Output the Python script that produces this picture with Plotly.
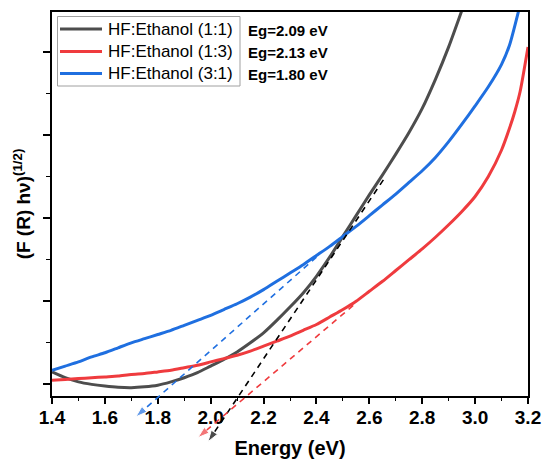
import plotly.graph_objects as go

# ---------------- data ----------------
series_names = ["HF:Ethanol (1:1)", "HF:Ethanol (1:3)", "HF:Ethanol (3:1)"]
series_colors = ["#4d4d4d", "#ef3b3e", "#1f6fe0"]

energy_11 = [1.40, 1.45, 1.50, 1.55, 1.60, 1.65, 1.70, 1.75, 1.80, 1.85, 1.90, 1.95, 2.00,
             2.05, 2.10, 2.15, 2.20, 2.25, 2.30, 2.35, 2.40, 2.45, 2.50, 2.55, 2.60, 2.65,
             2.70, 2.75, 2.80, 2.85, 2.90, 2.95]
value_11 = [0.15, 0.08, 0.03, 0.00, -0.02, -0.035, -0.04, -0.03, -0.01, 0.03, 0.08, 0.14, 0.22,
            0.30, 0.39, 0.50, 0.62, 0.77, 0.93, 1.10, 1.30, 1.53, 1.78, 2.03, 2.28, 2.52,
            2.77, 3.03, 3.32, 3.67, 4.06, 4.50]

energy_13 = [1.40, 1.45, 1.50, 1.55, 1.60, 1.65, 1.70, 1.75, 1.80, 1.85, 1.90, 1.95, 2.00,
             2.05, 2.10, 2.15, 2.20, 2.25, 2.30, 2.35, 2.40, 2.45, 2.50, 2.55, 2.60, 2.65,
             2.70, 2.75, 2.80, 2.85, 2.90, 2.95, 3.00, 3.05, 3.10, 3.13, 3.15, 3.17, 3.20]
value_13 = [0.05, 0.06, 0.07, 0.08, 0.09, 0.10, 0.12, 0.13, 0.15, 0.17, 0.20, 0.23, 0.27,
            0.31, 0.35, 0.40, 0.46, 0.52, 0.58, 0.65, 0.72, 0.81, 0.90, 1.00, 1.12, 1.24,
            1.37, 1.50, 1.63, 1.77, 1.92, 2.08, 2.26, 2.50, 2.82, 3.08, 3.28, 3.52, 4.06]

energy_31 = [1.40, 1.45, 1.50, 1.55, 1.60, 1.65, 1.70, 1.75, 1.80, 1.85, 1.90, 1.95, 2.00,
             2.05, 2.10, 2.15, 2.20, 2.25, 2.30, 2.35, 2.40, 2.45, 2.50, 2.55, 2.60, 2.65,
             2.70, 2.75, 2.80, 2.85, 2.90, 2.95, 3.00, 3.05, 3.10, 3.13, 3.165]
value_31 = [0.17, 0.22, 0.27, 0.33, 0.38, 0.44, 0.50, 0.55, 0.60, 0.65, 0.71, 0.77, 0.83,
            0.90, 0.97, 1.05, 1.14, 1.24, 1.34, 1.44, 1.55, 1.66, 1.78, 1.90, 2.03, 2.16,
            2.29, 2.43, 2.57, 2.73, 2.92, 3.13, 3.35, 3.58, 3.85, 4.08, 4.50]

eg_values = [2.09, 2.13, 1.80]

# tangent (extrapolation) lines: tail point and arrow-tip point, data units
tangent_x_start = [2.653, 2.539, 2.40]
tangent_y_start = [2.46, 0.95, 1.53]
tangent_x_end = [1.99, 1.952, 1.717]
tangent_y_end = [-0.69, -0.64, -0.39]
tangent_colors = ["#000000", "#ef3b3e", "#1f6fe0"]

x_range = [1.4, 3.2]
y_range = [-0.14, 4.48]

# ---------------- layout geometry ----------------
W, H = 542, 459
M_L, M_R, M_T, M_B = 52, 14, 12, 12
plot_w = W - M_L - M_R
plot_h = H - M_T - M_B
main_bottom_px = 63 - M_B          # main axes bottom sits 51 px above overlay bottom
y_dom0 = main_bottom_px / plot_h
# overlay y-range extended downward with the same scale so arrows can leave the box
y2_lo = y_range[0] - y_dom0 / (1 - y_dom0) * (y_range[1] - y_range[0])
y2_range = [y2_lo, y_range[1]]


def px_x(px):
    return (px - M_L) / plot_w


def px_y(py):
    return (H - M_B - py) / plot_h


FONT = "Arial, Liberation Sans, sans-serif"

fig = go.Figure()

xs = [energy_11, energy_13, energy_31]
ys = [value_11, value_13, value_31]
for name, c, x, y in zip(series_names, series_colors, xs, ys):
    fig.add_trace(go.Scatter(x=x, y=y, mode="lines", name=name, showlegend=False,
                             line=dict(color=c, width=3, shape="spline", smoothing=0.6),
                             xaxis="x", yaxis="y"))

for xs0, ys0, xe, ye, c in zip(tangent_x_start, tangent_y_start, tangent_x_end,
                              tangent_y_end, tangent_colors):
    fig.add_trace(go.Scatter(x=[xs0, xe], y=[ys0, ye], mode="lines+markers",
                             showlegend=False, hoverinfo="skip",
                             line=dict(color=c, width=1.6, dash="6px,5px"),
                             marker=dict(symbol="arrow", angleref="previous",
                                         size=[0, 12], color=c),
                             xaxis="x2", yaxis="y2", cliponaxis=False))

fig.update_layout(
    width=W, height=H,
    margin=dict(l=M_L, r=M_R, t=M_T, b=M_B, autoexpand=False),
    paper_bgcolor="white", plot_bgcolor="rgba(0,0,0,0)",
    font=dict(family=FONT, color="black"),
    showlegend=False,
    xaxis=dict(domain=[0, 1], anchor="y", range=x_range,
               showline=True, linecolor="black", linewidth=1.5, mirror=True,
               ticks="outside", ticklen=6, tickwidth=1.5, tickcolor="black",
               dtick=0.2, tick0=1.4, tickformat=".1f", ticklabelstandoff=-3,
               tickfont=dict(family=FONT, size=19, weight="bold"),
               minor=dict(dtick=0.1, ticks="outside", ticklen=3.5, tickwidth=1.2,
                          tickcolor="black"),
               showgrid=False, zeroline=False,
               title=dict(text="<b>Energy (eV)</b>", font=dict(family=FONT, size=20),
                          standoff=15)),
    yaxis=dict(domain=[y_dom0, 1], anchor="x", range=y_range,
               showline=True, linecolor="black", linewidth=1.5, mirror=True,
               ticks="outside", ticklen=7, tickwidth=1.5, tickcolor="black",
               dtick=1, tick0=0, showticklabels=False,
               minor=dict(dtick=0.5, ticks="outside", ticklen=4, tickwidth=1.2,
                          tickcolor="black"),
               showgrid=False, zeroline=False,
               title=dict(text="<b>(F (R) hν)<sup>(1/2)</sup></b>",
                          font=dict(family=FONT, size=19), standoff=8)),
    xaxis2=dict(domain=[0, 1], anchor="y2", range=x_range, visible=False,
                fixedrange=True),
    yaxis2=dict(domain=[0, 1], anchor="x2", range=y2_range, visible=False,
                fixedrange=True),
)

# ---- legend box drawn by hand (to match the reference's compact layout) ----
fig.add_shape(type="rect", xref="paper", yref="paper",
              x0=px_x(57.5), x1=px_x(240), y0=px_y(86), y1=px_y(16.5),
              line=dict(color="#a0a0a0", width=1), fillcolor="white", layer="above")
row_py = [29, 51.5, 73.5]
for name, c, py in zip(series_names, series_colors, row_py):
    fig.add_shape(type="line", xref="paper", yref="paper",
                  x0=px_x(60), x1=px_x(102), y0=px_y(py), y1=px_y(py),
                  line=dict(color=c, width=3), layer="above")
    fig.add_annotation(text=name, xref="paper", yref="paper", x=px_x(106),
                       y=px_y(py), xanchor="left", yanchor="middle", showarrow=False,
                       font=dict(family=FONT, size=17, color="black"))

# Eg labels next to the legend
for v, py in zip(eg_values, [30.5, 52.5, 75]):
    fig.add_annotation(text=f"<b>Eg={v:.2f} eV</b>", xref="paper", yref="paper",
                       x=px_x(246), y=px_y(py), xanchor="left",
                       yanchor="middle", showarrow=False,
                       font=dict(family=FONT, size=15, color="black"))

fig.write_html("out.html")
